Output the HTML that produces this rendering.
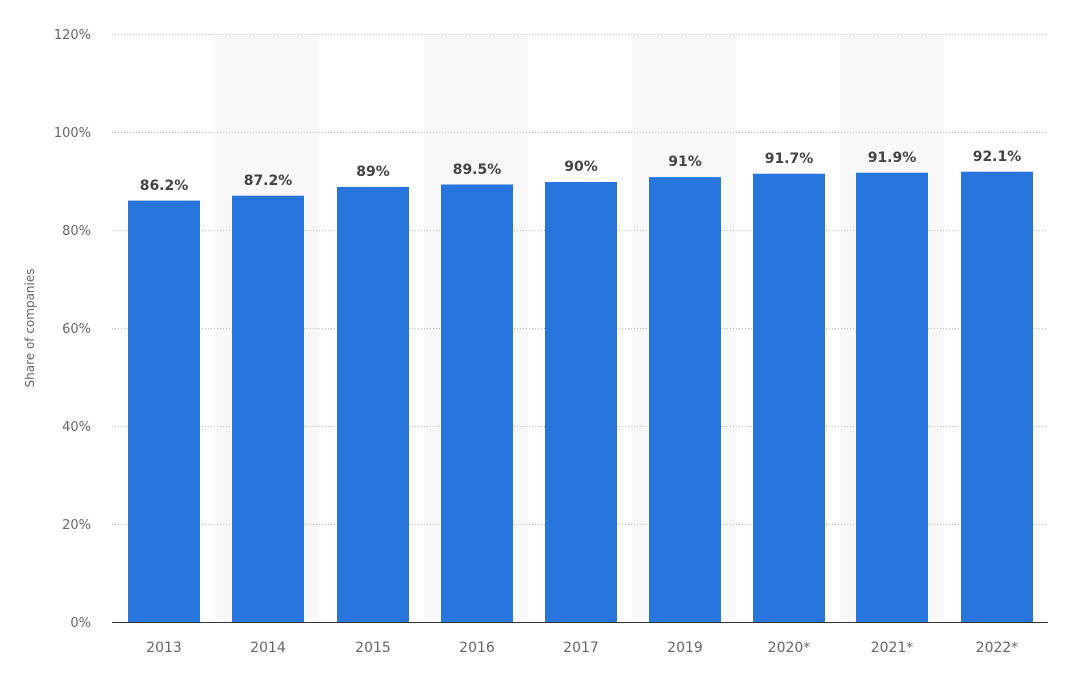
<!DOCTYPE html>
<html><head><meta charset="utf-8"><style>
body{margin:0;background:#fff;}
svg{display:block;font-family:"DejaVu Sans","Liberation Sans",sans-serif;}
</style></head><body>
<svg width="1065" height="679" viewBox="0 0 1065 679">
<g fill="#f8f8f8">
<rect x="215" y="34" width="104" height="588"/>
<rect x="424" y="34" width="104" height="588"/>
<rect x="632" y="34" width="104" height="588"/>
<rect x="840" y="34" width="104" height="588"/>
</g>
<g stroke="#bbb" stroke-width="1" stroke-dasharray="1,2">
<line x1="112" x2="1048" y1="34.5" y2="34.5"/>
<line x1="112" x2="1048" y1="132.5" y2="132.5"/>
<line x1="112" x2="1048" y1="230.5" y2="230.5"/>
<line x1="112" x2="1048" y1="328.5" y2="328.5"/>
<line x1="112" x2="1048" y1="426.5" y2="426.5"/>
<line x1="112" x2="1048" y1="524.5" y2="524.5"/>
</g>
<g fill="#666" font-size="13" text-anchor="end">
<text x="91" y="39">120%</text>
<text x="91" y="137">100%</text>
<text x="91" y="235">80%</text>
<text x="91" y="333">60%</text>
<text x="91" y="431">40%</text>
<text x="91" y="529">20%</text>
<text x="91" y="627">0%</text>
</g>
<text transform="translate(34,328) rotate(-90)" text-anchor="middle" font-size="12" fill="#666">Share of companies</text>
<g fill="#2876dd">
<rect x="128" y="200.6" width="72" height="421.4"/>
<rect x="232" y="195.7" width="72" height="426.3"/>
<rect x="337" y="186.9" width="72" height="435.1"/>
<rect x="441" y="184.5" width="72" height="437.5"/>
<rect x="545" y="182" width="72" height="440"/>
<rect x="649" y="177.1" width="72" height="444.9"/>
<rect x="753" y="173.7" width="72" height="448.3"/>
<rect x="856" y="172.7" width="72" height="449.3"/>
<rect x="961" y="171.7" width="72" height="450.3"/>
</g>
<g fill="#444" font-size="14" font-weight="bold" text-anchor="middle">
<text x="164" y="190">86.2%</text>
<text x="268" y="185">87.2%</text>
<text x="373" y="176">89%</text>
<text x="477" y="174">89.5%</text>
<text x="581" y="171">90%</text>
<text x="685" y="166">91%</text>
<text x="789" y="163">91.7%</text>
<text x="892" y="162">91.9%</text>
<text x="997" y="161">92.1%</text>
</g>
<line x1="112" x2="1048" y1="622.5" y2="622.5" stroke="#333" stroke-width="1"/>
<g fill="#666" font-size="14" text-anchor="middle">
<text x="164" y="652">2013</text>
<text x="268" y="652">2014</text>
<text x="373" y="652">2015</text>
<text x="477" y="652">2016</text>
<text x="581" y="652">2017</text>
<text x="685" y="652">2019</text>
<text x="789" y="652">2020*</text>
<text x="892" y="652">2021*</text>
<text x="997" y="652">2022*</text>
</g>
</svg>
</body></html>
